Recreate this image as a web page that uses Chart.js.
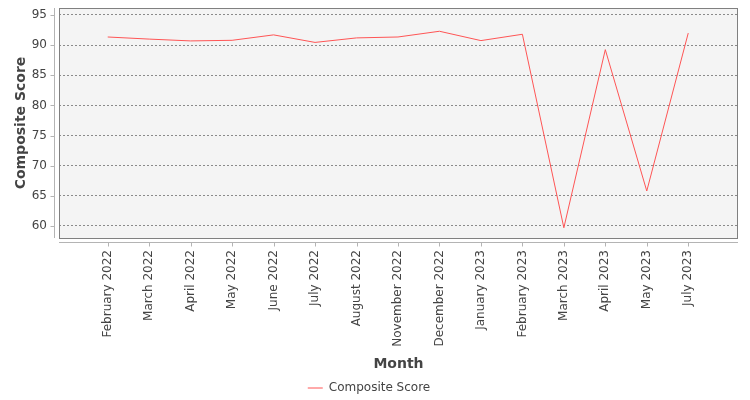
<!DOCTYPE html>
<html>
<head>
<meta charset="utf-8">
<script src="https://cdn.jsdelivr.net/npm/chart.js@4.4.1/dist/chart.umd.min.js"></script>
<style>
  html, body { margin: 0; padding: 0; background: #ffffff; }
  #wrap { width: 750px; height: 400px; }
</style>
</head>
<body>
<div id="wrap"><canvas id="grafico" width="750" height="400"></canvas></div>
<script>
// dados
const meses = ['February 2022', 'March 2022', 'April 2022', 'May 2022', 'June 2022',
    'July 2022', 'August 2022', 'November 2022', 'December 2022', 'January 2023',
    'February 2023', 'March 2023', 'April 2023', 'May 2023', 'July 2023'];
const composite = [91.35, 91.0, 90.7, 90.8, 91.7, 90.45, 91.2, 91.35, 92.3, 90.75,
    91.8, 59.7, 89.25, 65.8, 92.0];
const yTicks = [60, 65, 70, 75, 80, 85, 90, 95];

const corTexto = '#444444';
const fonte = 'DejaVu Sans';

// fundo cinza, borda e eixos deslocados (estilo JFreeChart)
const plotPlugin = {
    id: 'plotArea',
    beforeDraw(chart) {
        const { ctx, chartArea: a } = chart;
        ctx.save();
        ctx.fillStyle = '#f4f4f4';
        ctx.fillRect(a.left, a.top, a.right - a.left, a.bottom - a.top);
        ctx.restore();
    },
    afterDraw(chart) {
        const { ctx, chartArea: a, scales } = chart;
        ctx.save();
        ctx.lineWidth = 1;
        ctx.strokeStyle = '#808080';
        ctx.strokeRect(a.left + 0.5, a.top + 0.5, a.right - a.left - 1, a.bottom - a.top);

        ctx.strokeStyle = '#b4b4b4';
        // eixo y
        const ax = a.left - 4.5;
        ctx.beginPath();
        ctx.moveTo(ax, a.top);
        ctx.lineTo(ax, a.bottom);
        scales.y.ticks.forEach(t => {
            const py = Math.round(scales.y.getPixelForValue(t.value)) + 0.5;
            ctx.moveTo(ax - 4, py);
            ctx.lineTo(ax, py);
        });
        // eixo x
        const ay = a.bottom + 4.5;
        ctx.moveTo(a.left, ay);
        ctx.lineTo(a.right, ay);
        scales.x.ticks.forEach(t => {
            const px = Math.round(scales.x.getPixelForValue(t.value)) + 0.5;
            ctx.moveTo(px, ay);
            ctx.lineTo(px, ay + 4);
        });
        ctx.stroke();
        ctx.restore();
    }
};

const ctx = document.getElementById('grafico').getContext('2d');

const grafico = new Chart(ctx, {
    type: 'line',
    data: {
        datasets: [{
            label: 'Composite Score',
            data: composite.map((v, i) => ({ x: i, y: v })),
            borderColor: '#ff5555',
            backgroundColor: '#ff5555',
            borderWidth: 1,
            pointRadius: 0,
            pointHoverRadius: 0,
            tension: 0,
            fill: false
        }]
    },
    options: {
        responsive: false,
        animation: false,
        layout: { padding: { top: 8, right: 12, left: 0, bottom: 0 } },
        scales: {
            x: {
                type: 'linear',
                min: -1.175,
                max: 15.2,
                afterBuildTicks: scale => {
                    scale.ticks = meses.map((m, i) => ({ value: i }));
                },
                afterFit: scale => {
                    scale.height = 400 - 238 - scale.chart.legend.height;
                    scale.paddingLeft = 0;
                    scale.paddingRight = 0;
                },
                grid: { display: false, drawTicks: false },
                border: { display: false },
                ticks: {
                    autoSkip: false,
                    minRotation: 90,
                    maxRotation: 90,
                    padding: 12,
                    color: corTexto,
                    font: { family: fonte, size: 12 },
                    callback: v => meses[v]
                },
                title: {
                    display: true,
                    text: 'Month',
                    color: corTexto,
                    font: { family: fonte, size: 14, weight: 'bold' },
                    padding: { top: 0, bottom: 3.6 }
                }
            },
            y: {
                min: 58,
                max: 96.16,
                afterBuildTicks: scale => {
                    scale.ticks = yTicks.map(v => ({ value: v }));
                },
                afterFit: scale => {
                    scale.width = 59;
                    scale.paddingTop = 0;
                    scale.paddingBottom = 0;
                },
                grid: {
                    drawTicks: false,
                    color: '#8a8a8a',
                    lineWidth: 1
                },
                border: { display: false, dash: [2, 2] },
                ticks: {
                    padding: 12,
                    color: corTexto,
                    font: { family: fonte, size: 12 }
                },
                title: {
                    display: true,
                    text: 'Composite Score',
                    color: corTexto,
                    font: { family: fonte, size: 14, weight: 'bold' },
                    padding: { top: 12.6, bottom: 0 }
                }
            }
        },
        plugins: {
            legend: {
                position: 'bottom',
                maxHeight: 24,
                labels: {
                    usePointStyle: true,
                    pointStyle: 'line',
                    pointStyleWidth: 15,
                    padding: 6,
                    color: corTexto,
                    font: { family: fonte, size: 12 }
                }
            },
            tooltip: { enabled: false }
        }
    },
    plugins: [plotPlugin]
});
</script>
</body>
</html>
